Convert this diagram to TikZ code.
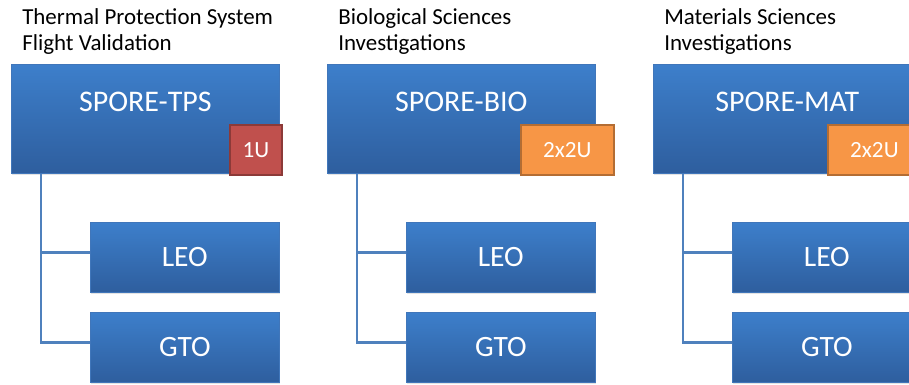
\documentclass[tikz,border=0pt]{standalone}
\usepackage{fontspec}
\setmainfont{Carlito}
\usetikzlibrary{shadows,positioning,calc}

\definecolor{boxtop}{RGB}{61,127,203}
\definecolor{boxbottom}{RGB}{46,94,158}
\definecolor{boxline}{RGB}{64,118,186}
\definecolor{linkblue}{RGB}{79,129,189}
\definecolor{tagred}{RGB}{192,80,77}
\definecolor{tagorange}{RGB}{247,150,70}

\begin{document}
\begin{tikzpicture}
[x=0.025cm, y=-0.025cm,
box/.style={draw=boxline, line width=.4pt, top color=boxtop, bottom color=boxbottom,
  drop shadow={opacity=.22, shadow xshift=.6pt, shadow yshift=-1.4pt}, inner sep=0, anchor=north west},
mission/.style={box, minimum width=6.7cm, minimum height=2.725cm},
orbit/.style={box, minimum width=4.725cm, minimum height=1.75cm, text=white, font=\fontsize{21}{25}\selectfont},
tagbox/.style={minimum height=1.25cm, inner sep=0, anchor=north west, line width=1.4pt, text=white,
  font=\fontsize{16.5}{18}\selectfont},
title/.style={anchor=north west, align=left, inner sep=0, font=\fontsize{16.3}{19}\selectfont},
link/.style={linkblue, line width=2.1pt}]
%%%%%%%%%%

\useasboundingbox (0,0) rectangle (909,385);
\clip (0,0) rectangle (909,385);

\foreach \bx/\m/\size/\tagx/\tagw/\tagcol/\lineA/\lineB in {
  11/TPS/1U/229/1.3cm/tagred/Thermal Protection System/Flight Validation,
  327/BIO/2x2U/520/2.32cm/tagorange/Biological Sciences/Investigations,
  653/MAT/2x2U/827/2.32cm/tagorange/Materials Sciences/Investigations}
{
  \node[title] (title\m) at (\bx+11,8) {\lineA\\\lineB};

  \node[mission] (top\m) at (\bx,64) {};
  \node[anchor=base, text=white, font=\fontsize{21.3}{25}\selectfont] (name\m)
    at ($(top\m.north)+(0,47.5)$) {SPORE-\m};
  \node[tagbox, minimum width=\tagw, fill=\tagcol, draw=\tagcol!73!black] (size\m) at (\tagx,124) {\size};

  \node[orbit] (leo\m) at (\bx+79,222) {LEO};
  \node[orbit] (gto\m) at (\bx+79,312) {GTO};

  % spine down the left side, branches into the orbit boxes
  \coordinate (spine\m) at ($(top\m.south west)+(30,0)$);
  \draw[link] (spine\m) |- ([yshift=3.5pt]leo\m.west);
  \draw[link] (spine\m) |- ([yshift=3.5pt]gto\m.west);
}
\end{tikzpicture}
\end{document}
